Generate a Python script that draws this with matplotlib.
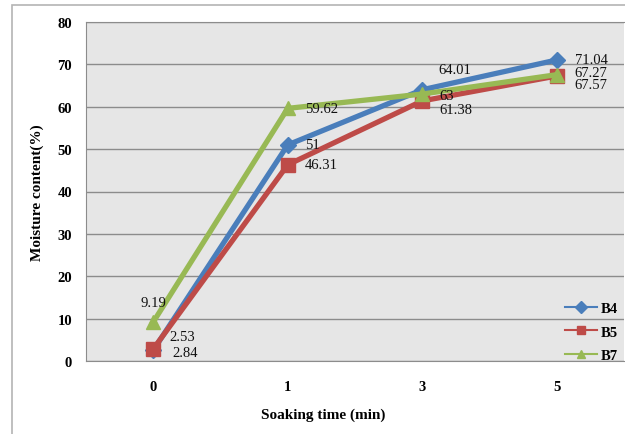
import matplotlib
matplotlib.use("Agg")
import matplotlib.pyplot as plt
from matplotlib.patches import Rectangle

# soaking time categories and moisture content of each sample
times = ["0", "1", "3", "5"]
b4 = [2.53, 51, 64.01, 71.04]
b5 = [2.84, 46.31, 61.38, 67.27]
b7 = [9.19, 59.62, 63, 67.57]

series = [
    ("B4", b4, "#4a7ebb", "D", 8),
    ("B5", b5, "#be4b48", "s", 10),
    ("B7", b7, "#98b954", "^", 10),
]
# where each value label sits, in pixels from its point
label_offsets = {
    "B4": [(16, 14), (17, 0), (16, 20), (18, 0)],
    "B5": [(19, -4), (17, 0), (17, -9), (18, 3)],
    "B7": [(-13, 20), (17, 0), (17, -1), (18, -10)],
}

plt.rcParams["font.family"] = "Liberation Serif"

fig = plt.figure(figsize=(6.25, 4.35), dpi=100)
fig.patches.append(Rectangle((12 / 625, -0.1), 1.2, 1 - 6 / 435 + 0.1,
                             transform=fig.transFigure, fill=False,
                             edgecolor="#b4b4b4", linewidth=1.2))
ax = fig.add_axes([86 / 625, 73 / 435, 538 / 625, 339 / 435])
ax.set_facecolor("#e6e6e6")

x = list(range(len(times)))
for name, vals, color, marker, ms in series:
    ax.plot(x, vals, color=color, linewidth=3.8, marker=marker,
            markersize=ms, label=name, zorder=3)
    for i, v in enumerate(vals):
        dx, dy = label_offsets[name][i]
        ax.annotate(f"{v:g}", (i, v), xytext=(dx, dy), textcoords="offset pixels",
                    ha="left", va="center", fontsize=10.5, color="#111111", zorder=4)

ax.set_xlim(-0.5, 3.5)
ax.set_ylim(0, 80)
ax.set_yticks(range(0, 81, 10))
ax.set_xticks(x)
ax.set_xticklabels(times)
ax.yaxis.grid(True, color="#8c8c8c", linewidth=1)
ax.set_axisbelow(True)
ax.tick_params(length=0, labelsize=10.5, pad=10)
for lab in ax.get_xticklabels() + ax.get_yticklabels():
    lab.set_fontweight("bold")
ax.tick_params(axis="x", pad=14)
for side in ["left", "bottom", "top"]:
    ax.spines[side].set_color("#8c8c8c")
ax.spines["right"].set_visible(False)

ax.set_ylabel("Moisture content(%)", fontsize=11, fontweight="bold", labelpad=10)
fig.text(323 / 625, 1 - 415 / 435, "Soaking time (min)", ha="center", va="center",
         fontsize=11, fontweight="bold")

leg = ax.legend(loc="lower right", bbox_to_anchor=(1.0, -0.02), frameon=False,
                prop={"weight": "bold", "size": 10.5}, handlelength=2.2,
                handletextpad=0.3, labelspacing=0.7, borderaxespad=0.0)
for h in leg.legend_handles:
    h.set_linewidth(1.5)
    h.set_markersize(6)

fig.savefig("out.png", dpi=100)
